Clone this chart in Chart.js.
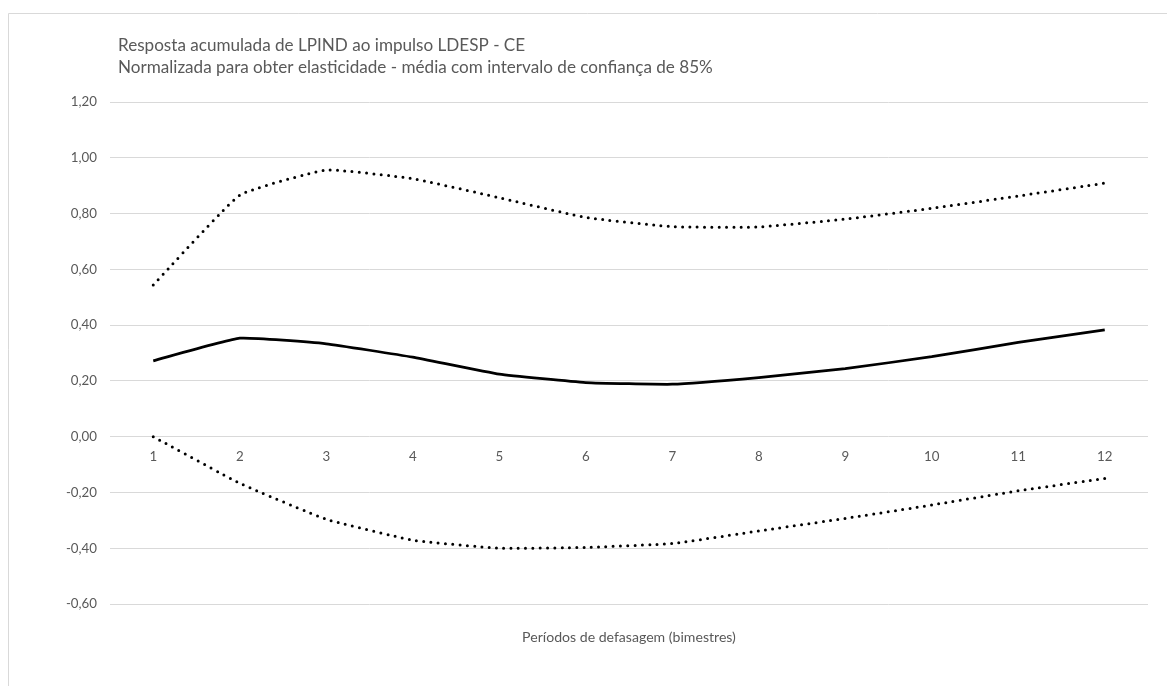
<!DOCTYPE html>
<html>
<head>
<meta charset="utf-8">
<script src="https://cdn.jsdelivr.net/npm/chart.js@4"></script>
<style>
  html, body { margin: 0; padding: 0; background: #ffffff; }
  #wrap { width: 1167px; height: 686px; position: relative; }
</style>
</head>
<body>
<div id="wrap"><canvas id="c" width="1167" height="686"></canvas></div>
<script>
const categories = ['1','2','3','4','5','6','7','8','9','10','11','12'];
const meanValues  = [0.272, 0.353, 0.333, 0.285, 0.224, 0.194, 0.188, 0.212, 0.244, 0.287, 0.338, 0.383];
const upperValues = [0.544, 0.866, 0.956, 0.925, 0.857, 0.786, 0.753, 0.752, 0.780, 0.819, 0.863, 0.909];
const lowerValues = [0.000, -0.167, -0.296, -0.371, -0.400, -0.397, -0.383, -0.338, -0.293, -0.245, -0.194, -0.150];
const titleLines = [
  'Resposta acumulada de LPIND ao impulso LDESP - CE',
  'Normalizada para obter elasticidade - média com intervalo de confiança de 85%'
];
const xAxisTitle = 'Períodos de defasagem (bimestres)';
const yMin = -0.6, yMax = 1.2, yStep = 0.2;

const FAMILY = "Lato, 'Open Sans', sans-serif";
const TEXT = '#595959';

function fitSize(text, target) {
  const c = document.createElement('canvas').getContext('2d');
  c.font = '100px ' + FAMILY;
  const w = c.measureText(text).width;
  return Math.round(100 * target / w * 10) / 10;
}

function build() {
  const titleSize = fitSize(titleLines[1], 594);
  const axisTitleSize = fitSize(xAxisTitle, 214);
  const tickSize = fitSize('-0,60', 31);

  const frame = {
    id: 'frame',
    beforeDraw(chart) {
      const ctx = chart.ctx;
      ctx.save();
      ctx.fillStyle = '#ffffff';
      ctx.fillRect(0, 0, chart.width, chart.height);
      ctx.strokeStyle = '#d9d9d9';
      ctx.lineWidth = 1;
      ctx.beginPath();
      ctx.moveTo(8.5, chart.height);
      ctx.lineTo(8.5, 13.5);
      ctx.lineTo(chart.width, 13.5);
      ctx.stroke();
      ctx.fillStyle = TEXT;
      ctx.font = titleSize + 'px ' + FAMILY;
      ctx.textBaseline = 'middle';
      ctx.textAlign = 'left';
      ctx.fillText(titleLines[0], 118, 45);
      ctx.fillText(titleLines[1], 118, 67);
      ctx.restore();
    }
  };

  new Chart(document.getElementById('c'), {
    type: 'line',
    data: {
      labels: categories,
      datasets: [
        { label: 'Limite superior', data: upperValues, borderColor: '#000', borderWidth: 3,
          borderDash: [0, 7.3], borderCapStyle: 'round', tension: 0.12, pointRadius: 0, fill: false },
        { label: 'Média', data: meanValues, borderColor: '#000', borderWidth: 2.75,
          tension: 0.12, pointRadius: 0, fill: false },
        { label: 'Limite inferior', data: lowerValues, borderColor: '#000', borderWidth: 3,
          borderDash: [0, 7.3], borderCapStyle: 'round', tension: 0.12, pointRadius: 0, fill: false }
      ]
    },
    options: {
      responsive: false,
      animation: false,
      devicePixelRatio: 1,
      layout: { padding: { top: 102, right: 19, bottom: 42, left: 0 } },
      plugins: { legend: { display: false }, title: { display: false }, tooltip: { enabled: false } },
      scales: {
        x: {
          type: 'category',
          position: { y: 0 },
          offset: true,
          grid: { display: false, drawTicks: false },
          border: { display: false },
          ticks: { color: TEXT, font: { family: FAMILY, size: tickSize }, padding: 12, maxRotation: 0, autoSkip: false }
        },
        x2: {
          type: 'category',
          position: 'bottom',
          labels: categories,
          offset: true,
          grid: { display: false, drawTicks: false },
          border: { display: false },
          ticks: { display: false },
          title: { display: true, text: xAxisTitle, color: TEXT, font: { family: FAMILY, size: axisTitleSize }, padding: { top: 0, bottom: -2 } },
          afterFit: s => { s.height = 40; }
        },
        y: {
          min: yMin, max: yMax,
          grid: { color: '#d9d9d9', lineWidth: 1, drawTicks: false },
          border: { display: false },
          ticks: {
            stepSize: yStep, color: TEXT, font: { family: FAMILY, size: tickSize }, padding: 13,
            callback: v => (Math.round(v * 100) / 100).toFixed(2).replace('.', ',')
          },
          afterFit: s => { s.width = 110; }
        }
      }
    },
    plugins: [frame]
  });
}

if (document.fonts && document.fonts.load) {
  Promise.all([document.fonts.load('16px Lato')]).then(build, build);
} else {
  build();
}
</script>
</body>
</html>
